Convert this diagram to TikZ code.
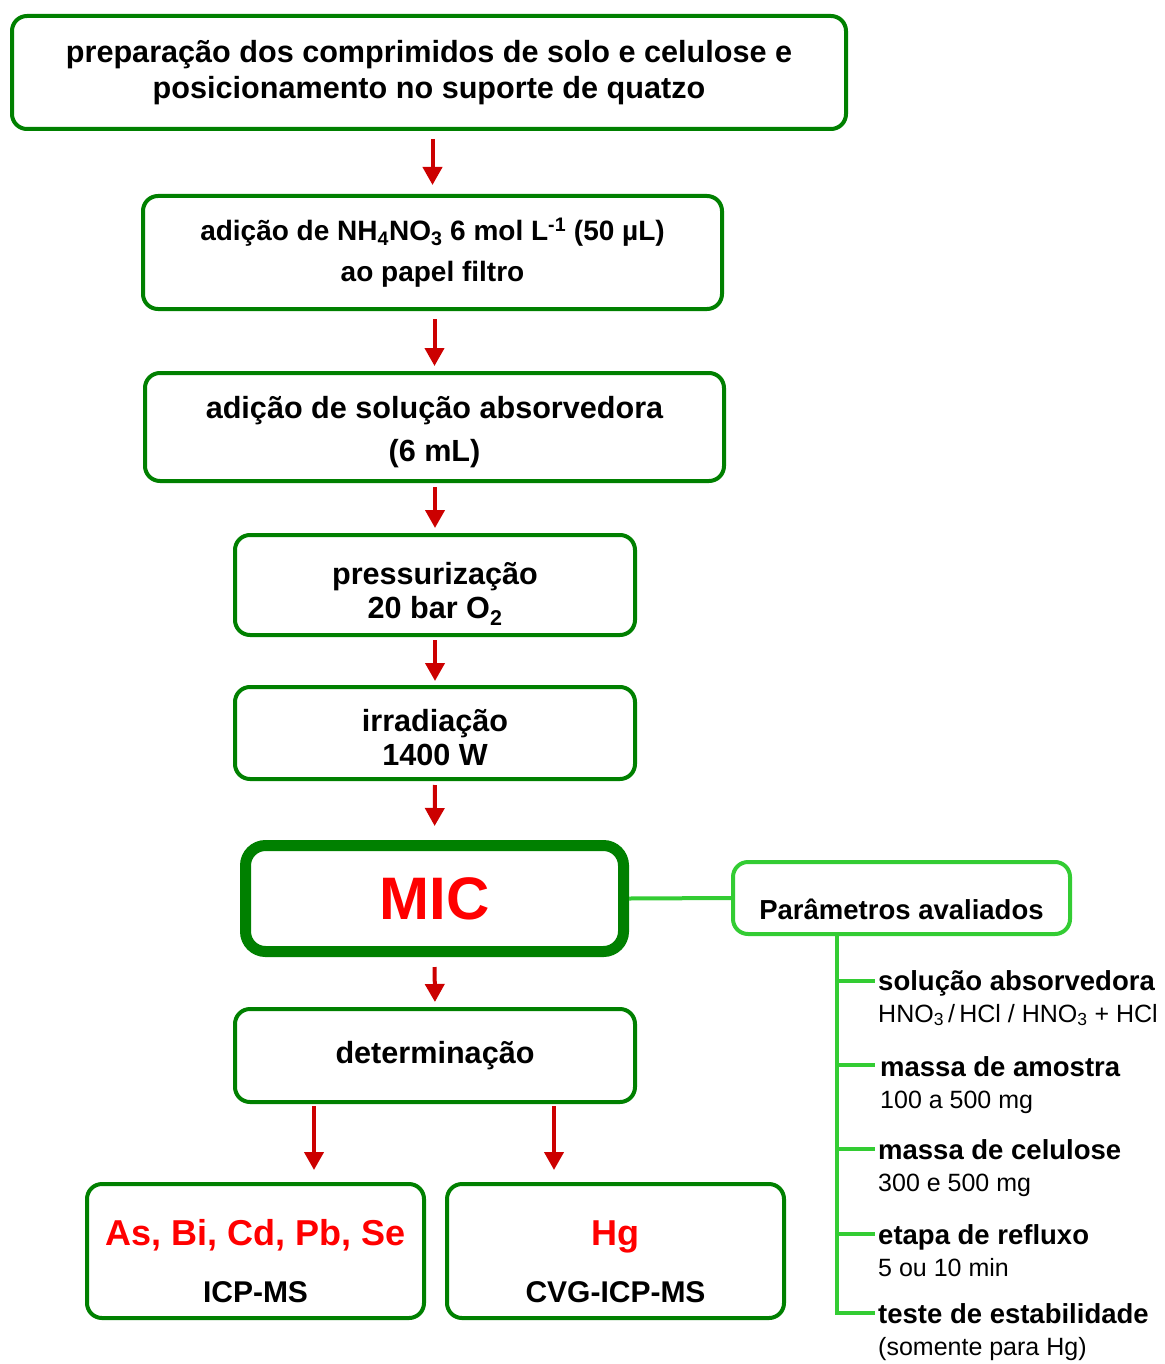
\documentclass[tikz,border=0pt]{standalone}
\usepackage{fontspec}
\setmainfont{Liberation Sans}
\usetikzlibrary{arrows.meta}
\definecolor{dkgreen}{RGB}{0,128,0}
\definecolor{ltgreen}{RGB}{51,204,51}
\definecolor{arrred}{RGB}{204,0,0}
\definecolor{txtred}{RGB}{255,0,0}
\begin{document}
\begin{tikzpicture}[x=1pt,y=-1pt,
 box/.style={draw=dkgreen,line width=4pt,rounded corners=15pt,fill=white,align=center,inner sep=0pt},
 mainfont/.style={font=\bfseries\fontsize{30.6}{#1}\selectfont},
 arr/.style={draw=arrred,line width=4pt,-{Triangle[width=19pt,length=18pt]}},
 link/.style={draw=ltgreen,line width=4pt},
 leaf/.style={anchor=north west,inner sep=0pt,align=left,font=\fontsize{25}{32}\selectfont}
]
\useasboundingbox (0,0) rectangle (1164,1364);

\node[box,mainfont=36,minimum width=834pt,minimum height=113pt] (b1) at (429,72.5)
 {preparação dos comprimidos de solo e celulose e\\posicionamento no suporte de quatzo\rule[-4pt]{0pt}{4pt}};
\node[box,font=\bfseries\fontsize{28}{41}\selectfont,minimum width=579pt,minimum height=113pt] (b2) at (432.5,252.5)
 {adição de NH\textsubscript{4}NO\textsubscript{3} 6 mol L\textsuperscript{-1} (50 µL)\\ao papel filtro};
\node[box,mainfont=43,minimum width=579pt,minimum height=108pt] (b3) at (434.5,427)
 {\rule{0pt}{32pt}adição de solução absorvedora\\(6 mL)};
\node[box,mainfont=34,minimum width=400pt,minimum height=100pt] (b4) at (435,585)
 {\rule{0pt}{40pt}pressurização\\20 bar O\textsubscript{2}};
\node[box,mainfont=34,minimum width=400pt,minimum height=92pt] (b5) at (435,733)
 {\rule{0pt}{32pt}irradiação\\1400 W};
\node[box,line width=11pt,rounded corners=20pt,minimum width=378pt,minimum height=106pt,
 font=\bfseries\fontsize{60}{70}\selectfont,text=txtred] (mic) at (434.5,898.5) {MIC};
\node[box,draw=ltgreen,minimum width=337pt,minimum height=72pt,
 font=\bfseries\fontsize{27.5}{32}\selectfont,text height=48pt,text depth=6pt] (par) at (901.5,898)
 {Parâmetros avaliados};
\node[box,mainfont=36,minimum width=400pt,minimum height=93pt] (det) at (435,1055.5)
 {determinação};
\node[box,minimum width=337pt,minimum height=134pt,font=\bfseries\fontsize{30}{57}\selectfont] (as) at (255.5,1251)
 {\rule{0pt}{46pt}{\color{txtred}\fontsize{36}{57}\selectfont As, Bi, Cd, Pb, Se}\\ICP-MS};
\node[box,minimum width=337pt,minimum height=134pt,font=\bfseries\fontsize{30}{57}\selectfont] (hg) at (615.5,1251)
 {\rule{0pt}{46pt}{\color{txtred}\fontsize{36}{57}\selectfont Hg}\\CVG-ICP-MS};

% arrows
\draw[arr,shorten <=8pt,shorten >=9pt] (b1.south -| b2.north) -- (b2.north);
\draw[arr,shorten <=8pt,shorten >=5pt] (b2.south -| b3.north) -- (b3.north);
\draw[arr,shorten <=4pt,shorten >=5pt] (b3.south -| b4.north) -- (b4.north);
\draw[arr,shorten <=3pt,shorten >=4pt] (b4.south) -- (b5.north);
\draw[arr,shorten <=4pt,shorten >=14pt] (b5.south) -- (mic.north);
\draw[arr,shorten <=10pt,shorten >=5pt] (mic.south) -- (det.north);
\coordinate (aL) at (314,0);
\coordinate (aR) at (554,0);
\draw[arr,shorten <=2pt,shorten >=12pt] (det.south -| aL) -- (as.north -| aL);
\draw[arr,shorten <=2pt,shorten >=12pt] (det.south -| aR) -- (hg.north -| aR);

% parameters
\draw[link] (mic.east) -- (par.west);
\coordinate (tr) at (837,0);
\coordinate (e1) at (875,981);
\coordinate (e2) at (875,1065);
\coordinate (e3) at (875,1149);
\coordinate (e4) at (875,1234);
\coordinate (e5) at (875,1313);
\draw[link] (par.south -| tr) |- (e5);
\draw[link] (tr |- e1) -- (e1);
\draw[link] (tr |- e2) -- (e2);
\draw[link] (tr |- e3) -- (e3);
\draw[link] (tr |- e4) -- (e4);

\node[leaf] (l1) at (878,970) {{\bfseries\fontsize{27.5}{32}\selectfont solução absorvedora}\\HNO\textsubscript{3}\,/\,HCl / HNO\textsubscript{3} + HCl};
\node[leaf] (l2) at (880,1056) {{\bfseries\fontsize{27.5}{32}\selectfont massa de amostra}\\100 a 500 mg};
\node[leaf] (l3) at (878,1139) {{\bfseries\fontsize{27.5}{32}\selectfont massa de celulose}\\300 e 500 mg};
\node[leaf] (l4) at (878,1224) {{\bfseries\fontsize{27.5}{32}\selectfont etapa de refluxo}\\5 ou 10 min};
\node[leaf] (l5) at (878,1303) {{\bfseries\fontsize{27.5}{32}\selectfont teste de estabilidade}\\(somente para Hg)};
\end{tikzpicture}
\end{document}
